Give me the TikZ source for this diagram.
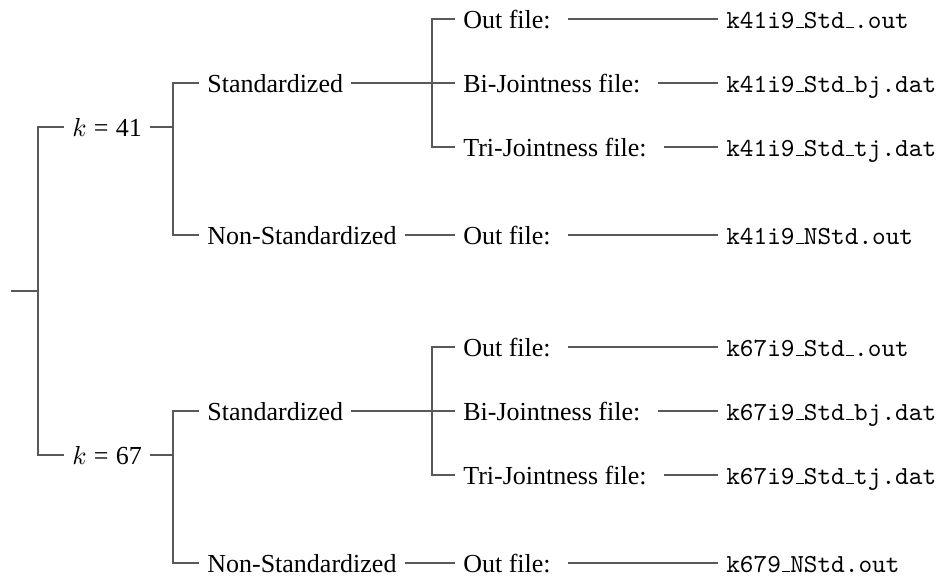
\documentclass[tikz,border=0pt]{standalone}
\usepackage{fontspec}
\setmainfont{Liberation Serif}
% narrow low rule used as the underscore in file names
\newcommand\usc{\leavevmode\kern.06em\vbox{\hrule width.3em}}
% k = value label: italic k, upright relation and digits
\newcommand\kval[1]{\(k\)\hspace{2.78pt}=\hspace{2.78pt}#1}
\tikzset{
  lbl/.style={anchor=west, inner sep=3pt, text height=9.2pt, text depth=2pt, font=\fontsize{10}{12}\selectfont},
  fname/.style={lbl, font=\fontsize{10}{12}\selectfont\ttfamily},
  link/.style={draw=black!65, line width=0.5pt},
  leaflink/.style={link, shorten <=3.5pt}
}
\begin{document}
\begin{tikzpicture}[x=0.3846pt,y=-0.3846pt]
\useasboundingbox (0,0) rectangle (942,577);

% fork points
\coordinate (root) at (11,291);
\coordinate (fr) at (38,291);
\coordinate (fk1) at (173,127);
\coordinate (fk2) at (173,455);
\coordinate (fs1) at (432,83);
\coordinate (fs2) at (432,411);

% k = 41 branch
\node[lbl] (k41) at (64,127) {\kval{41}};
\node[lbl] (std1) at (199,83) {Standardized};
\node[lbl] (nstd1) at (199,235) {Non-Standardized};
\node[lbl] (o1) at (455,19) {Out file:};
\node[lbl] (b1) at (455,83) {Bi-Jointness file:};
\node[lbl] (t1) at (455,147) {Tri-Jointness file:};
\node[lbl] (o2) at (455,235) {Out file:};
\node[fname] (f1) at (718,19) {k41i9\usc Std\usc .out};
\node[fname] (f2) at (718,83) {k41i9\usc Std\usc bj.dat};
\node[fname] (f3) at (718,147) {k41i9\usc Std\usc tj.dat};
\node[fname] (f4) at (718,235) {k41i9\usc NStd.out};

% k = 67 branch
\node[lbl] (k67) at (64,455) {\kval{67}};
\node[lbl] (std2) at (199,411) {Standardized};
\node[lbl] (nstd2) at (199,563) {Non-Standardized};
\node[lbl] (o3) at (455,347) {Out file:};
\node[lbl] (b2) at (455,411) {Bi-Jointness file:};
\node[lbl] (t2) at (455,475) {Tri-Jointness file:};
\node[lbl] (o4) at (455,563) {Out file:};
\node[fname] (f5) at (718,347) {k67i9\usc Std\usc .out};
\node[fname] (f6) at (718,411) {k67i9\usc Std\usc bj.dat};
\node[fname] (f7) at (718,475) {k67i9\usc Std\usc tj.dat};
\node[fname] (f8) at (718,563) {k679\usc NStd.out};

% forked edges
\draw[link] (root) -- (fr) |- (k41.west);
\draw[link] (fr) |- (k67.west);

\draw[link] (k41.east) -- (fk1) |- (std1.west);
\draw[link] (fk1) |- (nstd1.west);
\draw[link] (std1.east) -- (fs1) |- (o1.west);
\draw[link] (fs1) -- (b1.west);
\draw[link] (fs1) |- (t1.west);
\draw[link] (nstd1.east) -- (o2.west);

\draw[link] (k67.east) -- (fk2) |- (std2.west);
\draw[link] (fk2) |- (nstd2.west);
\draw[link] (std2.east) -- (fs2) |- (o3.west);
\draw[link] (fs2) -- (b2.west);
\draw[link] (fs2) |- (t2.west);
\draw[link] (nstd2.east) -- (o4.west);

% leaves to file names
\draw[leaflink] (o1.east) -- (f1.west);
\draw[leaflink] (b1.east) -- (f2.west);
\draw[leaflink] (t1.east) -- (f3.west);
\draw[leaflink] (o2.east) -- (f4.west);
\draw[leaflink] (o3.east) -- (f5.west);
\draw[leaflink] (b2.east) -- (f6.west);
\draw[leaflink] (t2.east) -- (f7.west);
\draw[leaflink] (o4.east) -- (f8.west);
\end{tikzpicture}
\end{document}
